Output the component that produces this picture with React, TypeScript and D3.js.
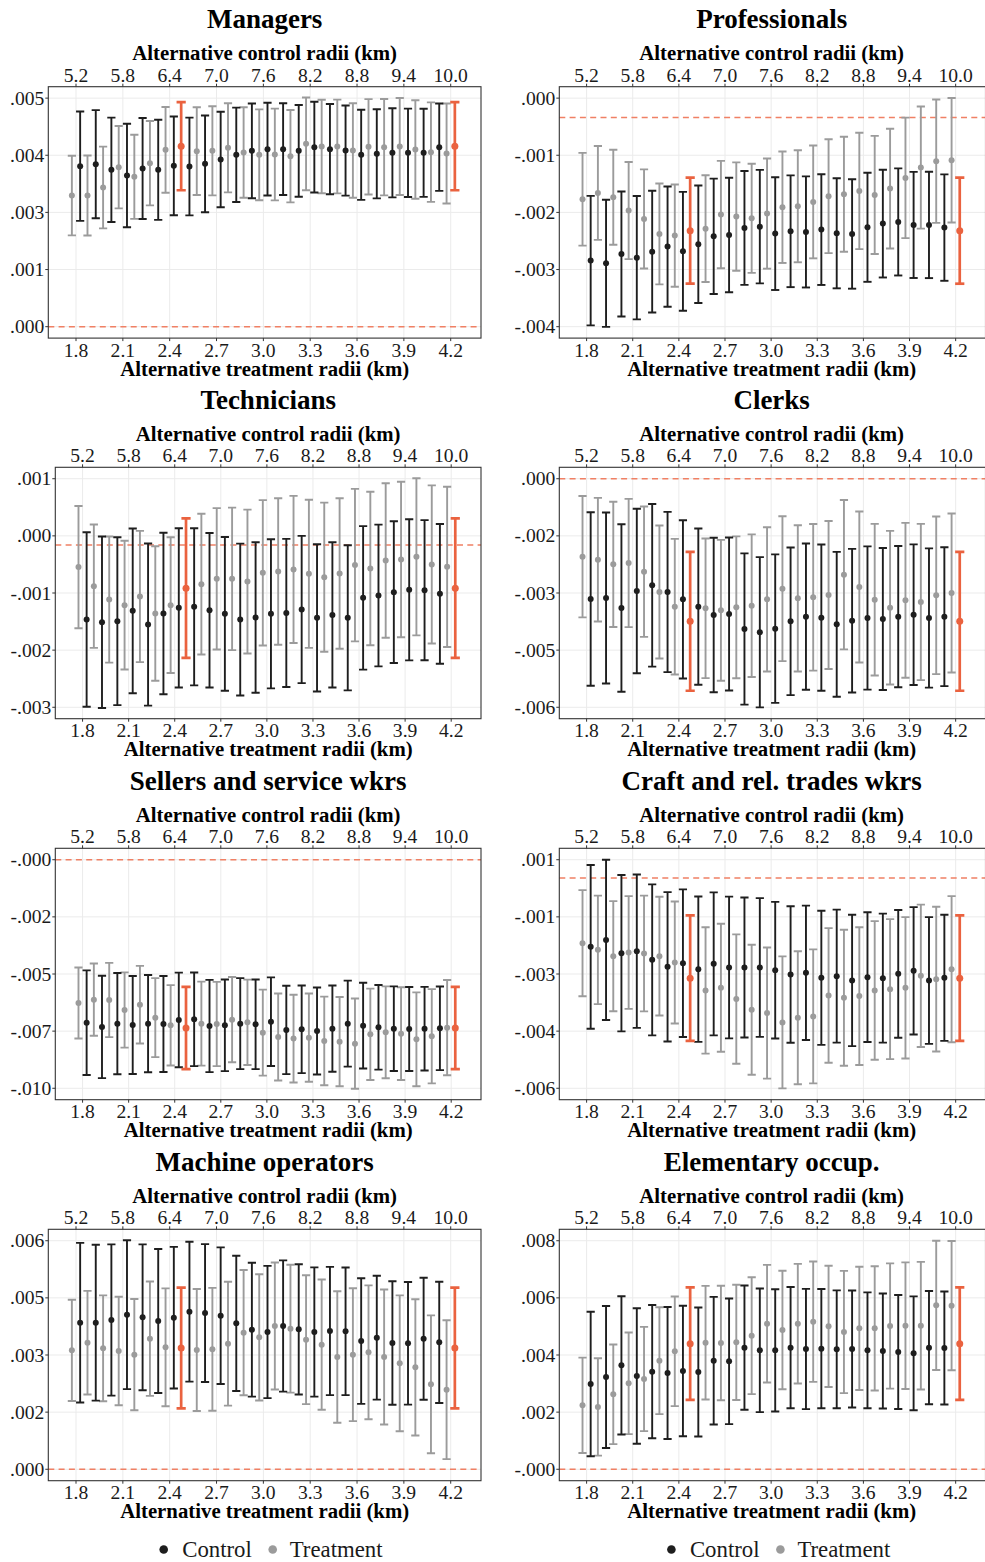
import React from "react";
import * as d3 from "d3";

// Radii on the two x axes (km)
const treatmentRadii = [1.8, 1.9, 2.0, 2.1, 2.2, 2.3, 2.4, 2.5, 2.6, 2.7, 2.8, 2.9, 3.0, 3.1, 3.2, 3.3, 3.4, 3.5, 3.6, 3.7, 3.8, 3.9, 4.0, 4.1, 4.2];
const controlRadii = [5.2, 5.4, 5.6, 5.8, 6.0, 6.2, 6.4, 6.6, 6.8, 7.0, 7.2, 7.4, 7.6, 7.8, 8.0, 8.2, 8.4, 8.6, 8.8, 9.0, 9.2, 9.4, 9.6, 9.8, 10.0];
const treatmentTicks = [1.8, 2.1, 2.4, 2.7, 3.0, 3.3, 3.6, 3.9, 4.2];
const controlTicks = [5.2, 5.8, 6.4, 7.0, 7.6, 8.2, 8.8, 9.4, 10.0];
const baselineTreatment = 2.5;
const baselineControl = 10.0;

// Estimates and 95% margins, in thousandths (x 1e-3)
const managersTreatEst = [2.869, 2.869, 3.044, 3.489, 3.278, 3.577, 3.869, 3.949, 3.840, 3.847, 3.913, 3.811, 3.760, 3.767, 3.730, 4.000, 3.942, 3.942, 3.854, 3.935, 3.927, 3.942, 3.876, 3.818, 3.789];
const managersTreatMoe = [0.872, 0.876, 0.894, 0.902, 0.920, 0.923, 0.938, 0.964, 0.960, 0.975, 0.975, 0.989, 0.993, 1.004, 1.011, 1.015, 1.022, 1.026, 1.033, 1.044, 1.055, 1.062, 1.077, 1.088, 1.095];
const managersCtrlEst = [3.511, 3.555, 3.431, 3.307, 3.460, 3.431, 3.519, 3.504, 3.562, 3.657, 3.760, 3.847, 3.884, 3.884, 3.847, 3.927, 3.884, 3.854, 3.760, 3.781, 3.803, 3.803, 3.803, 3.927, 3.949];
const managersCtrlMoe = [1.197, 1.183, 1.142, 1.132, 1.106, 1.095, 1.080, 1.069, 1.059, 1.044, 1.033, 1.037, 1.015, 1.004, 1.004, 0.993, 0.986, 0.986, 0.986, 0.975, 0.975, 0.967, 0.964, 0.956, 0.964];

const professionalsTreatEst = [-1.431, -1.320, -1.396, -1.629, -1.775, -2.038, -2.067, -1.980, -1.945, -1.699, -1.734, -1.764, -1.682, -1.571, -1.553, -1.478, -1.378, -1.343, -1.285, -1.355, -1.244, -1.057, -0.876, -0.765, -0.748];
const professionalsTreatMoe = [0.812, 0.821, 0.832, 0.850, 0.867, 0.882, 0.894, 0.929, 0.934, 0.940, 0.949, 0.955, 0.964, 0.975, 0.981, 0.987, 0.996, 1.007, 1.019, 1.034, 1.048, 1.054, 1.069, 1.080, 1.089];
const professionalsCtrlEst = [-2.505, -2.552, -2.389, -2.453, -2.348, -2.260, -2.342, -2.219, -2.079, -2.056, -1.933, -1.910, -2.032, -1.991, -2.003, -1.962, -2.026, -2.038, -1.921, -1.857, -1.828, -1.880, -1.880, -1.927, -1.980];
const professionalsCtrlMoe = [1.133, 1.113, 1.095, 1.080, 1.066, 1.051, 1.040, 1.028, 1.010, 1.002, 0.996, 0.993, 0.987, 0.978, 0.972, 0.969, 0.964, 0.958, 0.955, 0.943, 0.937, 0.929, 0.931, 0.931, 0.929];

const techniciansTreatEst = [-0.385, -0.718, -0.952, -1.051, -0.899, -1.197, -1.051, -0.753, -0.683, -0.590, -0.590, -0.637, -0.485, -0.461, -0.426, -0.502, -0.561, -0.496, -0.350, -0.409, -0.269, -0.251, -0.204, -0.339, -0.380];
const techniciansTreatMoe = [1.069, 1.080, 1.104, 1.127, 1.148, 1.177, 1.188, 1.221, 1.232, 1.238, 1.247, 1.259, 1.273, 1.282, 1.288, 1.296, 1.305, 1.317, 1.334, 1.343, 1.352, 1.361, 1.375, 1.384, 1.402];
const techniciansCtrlEst = [-1.302, -1.349, -1.332, -1.150, -1.390, -1.197, -1.098, -1.080, -1.139, -1.203, -1.302, -1.267, -1.203, -1.186, -1.127, -1.273, -1.221, -1.273, -0.923, -0.882, -0.823, -0.783, -0.788, -0.853, -0.753];
const techniciansCtrlMoe = [1.527, 1.501, 1.469, 1.442, 1.419, 1.413, 1.393, 1.375, 1.352, 1.346, 1.329, 1.317, 1.305, 1.296, 1.288, 1.288, 1.270, 1.270, 1.256, 1.241, 1.241, 1.235, 1.226, 1.223, 1.221];

const clerksTreatEst = [-2.115, -2.196, -2.323, -2.287, -2.522, -3.073, -3.471, -3.868, -3.516, -3.570, -3.489, -3.443, -3.272, -2.983, -3.245, -3.218, -3.154, -2.603, -2.937, -3.281, -3.498, -3.299, -3.344, -3.163, -3.100];
const clerksTreatMoe = [1.645, 1.677, 1.699, 1.740, 1.767, 1.803, 1.839, 1.884, 1.893, 1.912, 1.925, 1.934, 1.957, 1.966, 1.984, 1.988, 2.006, 2.025, 2.047, 2.056, 2.083, 2.101, 2.119, 2.137, 2.156];
const clerksCtrlEst = [-3.263, -3.236, -3.507, -3.046, -2.892, -3.073, -3.272, -3.471, -3.697, -3.669, -4.076, -4.166, -4.067, -3.868, -3.742, -3.769, -3.950, -3.850, -3.778, -3.805, -3.742, -3.688, -3.778, -3.742, -3.868];
const clerksCtrlMoe = [2.354, 2.318, 2.273, 2.232, 2.205, 2.174, 2.147, 2.119, 2.097, 2.074, 2.052, 2.038, 2.015, 2.002, 1.984, 1.984, 1.966, 1.948, 1.943, 1.925, 1.916, 1.907, 1.889, 1.884, 1.884];

const sellersTreatEst = [-6.143, -6.000, -6.014, -6.443, -6.214, -6.771, -7.100, -7.214, -7.029, -7.043, -6.857, -6.971, -7.414, -7.600, -7.671, -7.629, -7.771, -7.800, -7.886, -7.486, -7.400, -7.457, -7.700, -7.571, -7.200];
const sellersTreatMoe = [1.521, 1.550, 1.593, 1.614, 1.664, 1.693, 1.721, 1.764, 1.800, 1.807, 1.829, 1.829, 1.843, 1.864, 1.879, 1.893, 1.900, 1.914, 1.936, 1.957, 1.971, 1.986, 2.014, 2.021, 2.043];
const sellersCtrlEst = [-6.986, -7.171, -7.029, -7.086, -7.029, -7.043, -6.871, -6.843, -7.129, -7.100, -7.029, -7.057, -6.943, -7.300, -7.271, -7.343, -7.243, -7.029, -7.114, -7.186, -7.243, -7.257, -7.243, -7.229, -7.214];
const sellersCtrlMoe = [2.243, 2.193, 2.171, 2.100, 2.086, 2.057, 2.029, 2.007, 1.979, 1.964, 1.950, 1.921, 1.900, 1.893, 1.879, 1.864, 1.850, 1.843, 1.836, 1.814, 1.814, 1.800, 1.793, 1.793, 1.764];

const craftTreatEst = [-1.826, -2.012, -2.189, -2.087, -2.115, -2.189, -2.366, -2.804, -3.149, -3.074, -3.391, -3.689, -3.782, -4.043, -3.913, -3.875, -3.289, -3.354, -3.307, -3.149, -3.112, -3.074, -2.739, -2.832, -2.553];
const craftTreatMoe = [1.486, 1.519, 1.542, 1.579, 1.621, 1.663, 1.709, 1.756, 1.770, 1.793, 1.812, 1.821, 1.835, 1.849, 1.863, 1.877, 1.886, 1.905, 1.928, 1.942, 1.961, 1.980, 1.994, 2.026, 2.045];
const craftCtrlEst = [-1.928, -1.733, -2.105, -2.050, -2.292, -2.487, -2.385, -2.553, -2.404, -2.506, -2.506, -2.506, -2.581, -2.702, -2.655, -2.795, -2.748, -2.869, -2.776, -2.804, -2.683, -2.599, -2.869, -2.795, -2.804];
const craftCtrlMoe = [2.292, 2.245, 2.189, 2.147, 2.115, 2.091, 2.068, 2.036, 2.003, 1.984, 1.961, 1.942, 1.914, 1.910, 1.882, 1.877, 1.863, 1.840, 1.817, 1.807, 1.789, 1.784, 1.775, 1.765, 1.756];

const machineTreatEst = [3.122, 3.323, 3.175, 3.105, 3.009, 3.428, 3.201, 3.184, 3.131, 3.149, 3.297, 3.586, 3.463, 3.761, 3.691, 3.402, 3.271, 2.947, 3.009, 3.070, 2.947, 2.781, 2.676, 2.230, 2.090];
const machineTreatMoe = [1.329, 1.360, 1.391, 1.426, 1.461, 1.500, 1.548, 1.583, 1.601, 1.614, 1.627, 1.644, 1.657, 1.666, 1.679, 1.692, 1.710, 1.727, 1.745, 1.758, 1.771, 1.784, 1.789, 1.810, 1.824];
const machineCtrlEst = [3.848, 3.848, 3.918, 4.058, 3.988, 3.892, 3.979, 4.137, 4.102, 4.032, 3.831, 3.665, 3.603, 3.761, 3.673, 3.603, 3.630, 3.621, 3.367, 3.455, 3.315, 3.306, 3.428, 3.332, 3.184];
const machineCtrlMoe = [2.095, 2.047, 1.985, 1.955, 1.915, 1.889, 1.859, 1.837, 1.810, 1.793, 1.775, 1.758, 1.736, 1.723, 1.710, 1.697, 1.684, 1.675, 1.649, 1.627, 1.622, 1.609, 1.601, 1.592, 1.583];

const elementaryTreatEst = [2.239, 2.181, 2.624, 3.009, 3.160, 3.802, 4.128, 4.397, 4.432, 4.420, 4.443, 4.676, 5.096, 4.875, 5.096, 5.166, 5.003, 4.805, 4.933, 4.933, 5.015, 5.026, 5.026, 5.738, 5.726];
const elementaryTreatMoe = [1.668, 1.703, 1.743, 1.778, 1.825, 1.872, 1.918, 1.971, 1.988, 2.006, 2.018, 2.047, 2.058, 2.076, 2.093, 2.105, 2.122, 2.140, 2.157, 2.175, 2.192, 2.216, 2.233, 2.262, 2.262];
const elementaryCtrlEst = [2.985, 3.230, 3.639, 3.265, 3.417, 3.370, 3.440, 3.405, 3.802, 3.778, 4.257, 4.163, 4.163, 4.257, 4.210, 4.222, 4.198, 4.210, 4.163, 4.140, 4.105, 4.058, 4.257, 4.245, 4.397];
const elementaryCtrlMoe = [2.531, 2.484, 2.420, 2.373, 2.332, 2.309, 2.286, 2.257, 2.233, 2.198, 2.175, 2.163, 2.140, 2.122, 2.105, 2.087, 2.064, 2.047, 2.029, 2.012, 1.994, 1.994, 1.983, 1.977, 1.971];

// Vertical break range (thousandths) and the printed break labels, bottom to top
const managersYRange = [0, 5.0];
const managersYLabels = [".000", ".001", ".003", ".004", ".005"];
const professionalsYRange = [-3.661, 0.339];
const professionalsYLabels = ["-.004", "-.003", "-.002", "-.001", ".000"];
const techniciansYRange = [-2.838, 1.162];
const techniciansYLabels = ["-.003", "-.002", "-.001", ".000", ".001"];
const clerksYRange = [-6.2, 0];
const clerksYLabels = ["-.006", "-.005", "-.003", "-.002", ".000"];
const sellersYRange = [-9.8, 0];
const sellersYLabels = ["-.010", "-.007", "-.005", "-.002", "-.000"];
const craftYRange = [-5.888, 0.512];
const craftYLabels = ["-.006", "-.004", "-.003", "-.001", ".001"];
const machineYRange = [0, 6.0];
const machineYLabels = [".000", ".002", ".003", ".005", ".006"];
const elementaryYRange = [0, 8.0];
const elementaryYLabels = ["-.000", ".002", ".004", ".006", ".008"];

const panelTitles = [
  "Managers", "Professionals", "Technicians", "Clerks",
  "Sellers and service wkrs", "Craft and rel. trades wkrs", "Machine operators", "Elementary occup.",
];

const panels = [
  { tEst: managersTreatEst, tMoe: managersTreatMoe, cEst: managersCtrlEst, cMoe: managersCtrlMoe, yr: managersYRange, yl: managersYLabels },
  { tEst: professionalsTreatEst, tMoe: professionalsTreatMoe, cEst: professionalsCtrlEst, cMoe: professionalsCtrlMoe, yr: professionalsYRange, yl: professionalsYLabels },
  { tEst: techniciansTreatEst, tMoe: techniciansTreatMoe, cEst: techniciansCtrlEst, cMoe: techniciansCtrlMoe, yr: techniciansYRange, yl: techniciansYLabels },
  { tEst: clerksTreatEst, tMoe: clerksTreatMoe, cEst: clerksCtrlEst, cMoe: clerksCtrlMoe, yr: clerksYRange, yl: clerksYLabels },
  { tEst: sellersTreatEst, tMoe: sellersTreatMoe, cEst: sellersCtrlEst, cMoe: sellersCtrlMoe, yr: sellersYRange, yl: sellersYLabels },
  { tEst: craftTreatEst, tMoe: craftTreatMoe, cEst: craftCtrlEst, cMoe: craftCtrlMoe, yr: craftYRange, yl: craftYLabels },
  { tEst: machineTreatEst, tMoe: machineTreatMoe, cEst: machineCtrlEst, cMoe: machineCtrlMoe, yr: machineYRange, yl: machineYLabels },
  { tEst: elementaryTreatEst, tMoe: elementaryTreatMoe, cEst: elementaryCtrlEst, cMoe: elementaryCtrlMoe, yr: elementaryYRange, yl: elementaryYLabels },
].map((p, i) => ({ ...p, title: panelTitles[i], col: i % 2, row: Math.floor(i / 2) }));

const W = 985;
const H = 1562;
const FONT = "'Liberation Serif', 'Times New Roman', serif";
const BLACK = "#1e1e1e";
const GREY = "#9b9b9b";
const RED = "#EA623F";
const RED_LINE = "#F08064";
const ROW_TOPS = [86.7, 467.3, 848.3, 1229.3];
const PANEL_H = 251.4;

type ErrPt = { x: number; est: number; moe: number; color: string; base: boolean };

function Panel({ p }: { p: any }) {
  const colStart = p.col === 0 ? 0 : 504;
  const hasMinus = p.yl.some((l: string) => l.startsWith("-"));
  const x0 = colStart + (hasMinus ? 55.3 : 48.3);
  const x1 = p.col === 0 ? 481 : 985.5;
  const top = ROW_TOPS[p.row];
  const bottom = top + PANEL_H;
  const cx = (x0 + Math.min(x1, 984)) / 2;

  const xB = d3.scaleLinear().domain([1.6225, 4.394]).range([x0, x1]);
  const xT = d3.scaleLinear().domain([4.845, 10.388]).range([x0, x1]);
  const [yLo, yHi] = p.yr;
  const pad = 0.05 * (yHi - yLo);
  const y = d3.scaleLinear().domain([yLo - pad, yHi + pad]).range([bottom, top]);
  const yTicks = d3.range(5).map((i) => yLo + (i * (yHi - yLo)) / 4);
  const dodge = (xB(1.9) - xB(1.8)) * 0.265;

  const pts: ErrPt[] = [];
  treatmentRadii.forEach((r, i) => {
    pts.push({ x: xB(r) - dodge, est: p.tEst[i], moe: p.tMoe[i], color: GREY, base: r === baselineTreatment });
  });
  controlRadii.forEach((r, i) => {
    pts.push({ x: xT(r) + dodge, est: p.cEst[i], moe: p.cMoe[i], color: BLACK, base: r === baselineControl });
  });
  const ordered = [
    ...pts.filter((d) => !d.base && d.color === GREY),
    ...pts.filter((d) => !d.base && d.color === BLACK),
    ...pts.filter((d) => d.base),
  ];

  return (
    <g>
      <clipPath id={`clip-${p.row}-${p.col}`}>
        <rect x={x0} y={top} width={x1 - x0} height={bottom - top} />
      </clipPath>
      {/* grid */}
      {treatmentTicks.map((t) => (
        <line key={"gx" + t} x1={xB(t)} x2={xB(t)} y1={top} y2={bottom} stroke="#ebebeb" strokeWidth={1} />
      ))}
      {yTicks.map((t, i) => (
        <line key={"gy" + i} x1={x0} x2={x1} y1={y(t)} y2={y(t)} stroke="#ebebeb" strokeWidth={1} />
      ))}
      {/* zero reference */}
      <line x1={x0} x2={x1} y1={y(0)} y2={y(0)} stroke={RED_LINE} strokeWidth={1.5} strokeDasharray="6 4.3" />
      {/* error bars */}
      <g clipPath={`url(#clip-${p.row}-${p.col})`}>
        {ordered.map((d, i) => {
          const col = d.base ? RED : d.color;
          const sw = d.base ? 2.7 : 1.9;
          const cap = d.base ? 4.6 : 4.1;
          const yt = y(d.est + d.moe);
          const yb = y(d.est - d.moe);
          return (
            <g key={i}>
              <line x1={d.x} x2={d.x} y1={yt} y2={yb} stroke={col} strokeWidth={sw} />
              <line x1={d.x - cap} x2={d.x + cap} y1={yt} y2={yt} stroke={col} strokeWidth={sw} />
              <line x1={d.x - cap} x2={d.x + cap} y1={yb} y2={yb} stroke={col} strokeWidth={sw} />
              <circle cx={d.x} cy={y(d.est)} r={d.base ? 3.5 : 3} fill={col} />
            </g>
          );
        })}
      </g>
      {/* border */}
      <rect x={x0} y={top} width={x1 - x0} height={bottom - top} fill="none" stroke="#333" strokeWidth={1.1} />
      {/* axis ticks */}
      {yTicks.map((t, i) => (
        <line key={"ty" + i} x1={x0 - 3} x2={x0} y1={y(t)} y2={y(t)} stroke="#333" strokeWidth={1} />
      ))}
      {treatmentTicks.map((t) => (
        <line key={"tb" + t} x1={xB(t)} x2={xB(t)} y1={bottom} y2={bottom + 3} stroke="#333" strokeWidth={1} />
      ))}
      {controlTicks.map((t) => (
        <line key={"tt" + t} x1={xT(t)} x2={xT(t)} y1={top - 3} y2={top} stroke="#333" strokeWidth={1} />
      ))}
      {/* tick labels */}
      {yTicks.map((t, i) => (
        <text key={"ly" + i} x={x0 - 4} y={y(t) + 6.5} textAnchor="end" fontSize={19.6} fill="#1a1a1a">
          {p.yl[i]}
        </text>
      ))}
      {treatmentTicks.map((t) => (
        <text key={"lb" + t} x={xB(t)} y={bottom + 18.4} textAnchor="middle" fontSize={19.6} fill="#1a1a1a">
          {t.toFixed(1)}
        </text>
      ))}
      {controlTicks.map((t) => (
        <text key={"lt" + t} x={xT(t)} y={top - 5} textAnchor="middle" fontSize={19.6} fill="#1a1a1a">
          {t.toFixed(1)}
        </text>
      ))}
      {/* titles */}
      <text x={cx} y={top - 58.4} textAnchor="middle" fontSize={27} fontWeight="bold" fill="#000">
        {p.title}
      </text>
      <text x={cx} y={top - 26.7} textAnchor="middle" fontSize={20.8} fontWeight="bold" fill="#000">
        Alternative control radii (km)
      </text>
      <text x={cx} y={bottom + 37.5} textAnchor="middle" fontSize={20.8} fontWeight="bold" fill="#000">
        Alternative treatment radii (km)
      </text>
    </g>
  );
}

function Legend({ cx }: { cx: number }) {
  const cy = 1549.5;
  return (
    <g fontSize={22.8} fill="#1a1a1a">
      <circle cx={cx - 101} cy={cy} r={4.3} fill={BLACK} />
      <text x={cx - 82.5} y={cy + 7.5}>Control</text>
      <circle cx={cx + 8} cy={cy} r={4.3} fill={GREY} />
      <text x={cx + 25} y={cy + 7.5}>Treatment</text>
    </g>
  );
}

export default function App() {
  return (
    <svg
      width={W}
      height={H}
      viewBox={`0 0 ${W} ${H}`}
      style={{ position: "absolute", left: 0, top: 0, background: "#fff" }}
      fontFamily={FONT}
    >
      <rect x={0} y={0} width={W} height={H} fill="#fff" />
      {panels.map((p, i) => (
        <Panel key={i} p={p} />
      ))}
      <Legend cx={264.7} />
      <Legend cx={772.4} />
    </svg>
  );
}
